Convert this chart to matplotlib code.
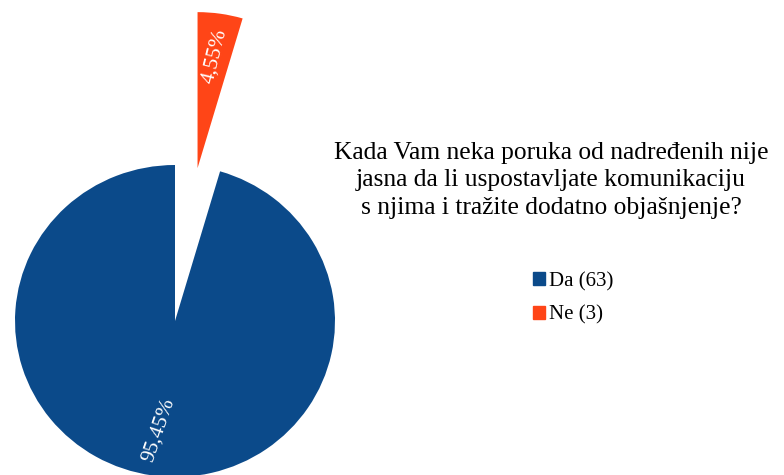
import matplotlib.pyplot as plt
from matplotlib.patches import Patch

labels = ["Da", "Ne"]
counts = [63, 3]
colors = ["#0b4a8a", "#ff4517"]
title = "Kada Vam neka poruka od nadređenih nije\njasna da li uspostavljate komunikaciju\ns njima i tražite dodatno objašnjenje?"

plt.rcParams['font.family'] = ['Liberation Serif', 'DejaVu Serif']

W, H = 784, 475
cx, cy = 175, 321      # pie centre in pixels (from top)
rx, ry = 160, 156      # original picture is a bit stretched sideways

fig = plt.figure(figsize=(W / 100, H / 100), dpi=100)
ax = fig.add_axes([0, 0, 1, 1])

wedges, texts, autotexts = ax.pie(
    counts, colors=colors, startangle=90, counterclock=True,
    explode=[0, 0.99], radius=1,
    autopct=lambda p: f"{p:.2f}%".replace(".", ","),
    pctdistance=0.72, textprops={'color': 'white', 'fontsize': 15.5},
)

# rotate percentage labels like the original
autotexts[0].set_rotation(71)
autotexts[0].set_position((-0.106, -0.70))
autotexts[1].set_rotation(76)
autotexts[1].set_position((0.25, 1.70))
for t in autotexts:
    t.set_ha('center')
    t.set_va('center')

ax.set_aspect('auto')
ax.set_xlim(-cx / rx, (W - cx) / rx)
ax.set_ylim(-(H - cy) / ry, cy / ry)
ax.axis('off')

fig.text(551 / W, 1 - 142 / H, title, ha='center', va='top', fontsize=18.4,
         linespacing=1.32, multialignment='center')

handles = [Patch(facecolor=c, edgecolor=c) for c in colors]
leg_labels = [f"{l} ({n})" for l, n in zip(labels, counts)]
fig.legend(handles, leg_labels, loc='upper left', bbox_to_anchor=(533 / W, 1 - 272 / H),
           frameon=False, fontsize=15, handlelength=0.58, handleheight=0.58,
           handletextpad=0.2, labelspacing=0.68, borderpad=0, borderaxespad=0)

fig.savefig("out.png", dpi=100)
